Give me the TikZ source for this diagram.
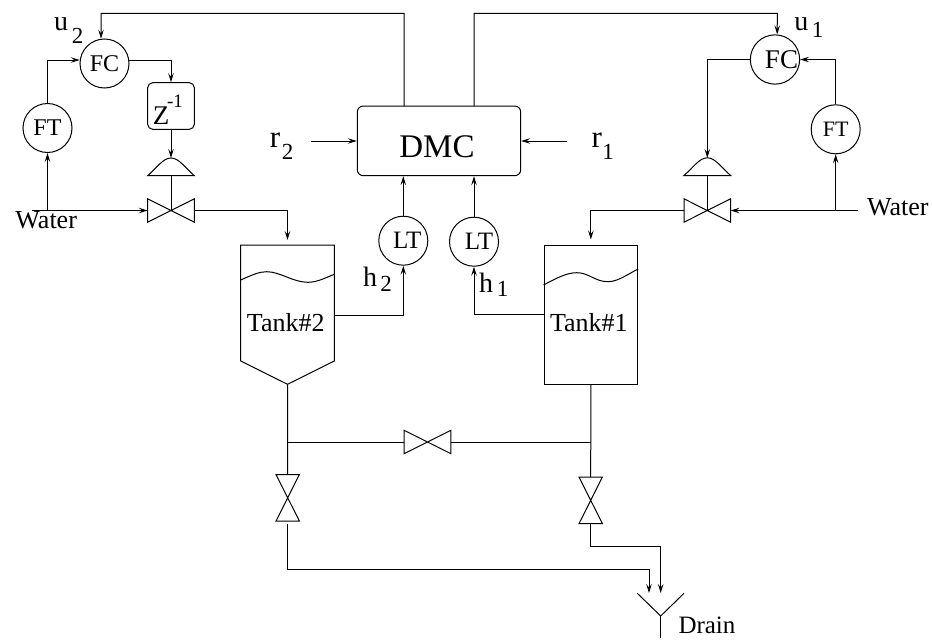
\documentclass[tikz,border=0pt]{standalone}
\usepackage{fontspec}
\setmainfont{Liberation Serif}
\usetikzlibrary{arrows.meta}
\tikzset{
  >={Stealth[length=9pt,width=5.5pt,inset=3.5pt]},
  meter/.style={draw, circle, minimum size=49pt, inner sep=0pt, font=\fontsize{24}{24}\selectfont},
  vessel/.style={draw, inner sep=0pt},
  txt/.style={inner sep=0pt, font=\fontsize{26}{26}\selectfont},
  letter/.style={inner sep=0pt, font=\fontsize{28}{28}\selectfont},
  digit/.style={inner sep=0pt, font=\fontsize{23}{23}\selectfont},
  bowtie/.pic={
    \draw (-23.3,-11.7) -- (23.3,11.7) -- (23.3,-11.7) -- (-23.3,11.7) -- cycle;
    \coordinate (-in) at (-23.3,0);
    \coordinate (-c) at (0,0);
    \coordinate (-out) at (23.3,0);
  },
  dome/.pic={
    \draw (-23.3,0) -- (23.3,0) .. controls (14,-8) and (8,-17.7) .. (0,-17.7)
      .. controls (-8,-17.7) and (-14,-8) .. cycle;
    \coordinate (-base) at (0,0);
  },
}
\begin{document}
\begin{tikzpicture}[x=1pt, y=-1pt, line width=1pt]
  \useasboundingbox (0,0) rectangle (932,640);
  % controller
  \node[draw, rounded corners=6pt, minimum width=163.4pt, minimum height=69.7pt, inner sep=0pt] (dmc) at (439,140.85) {};
  \node[inner sep=0pt, font=\fontsize{33}{33}\selectfont] (dmctext) at (437,147) {DMC};
  % left loop
  \node[meter] (fcl) at (104.5,63.5) {FC};
  \node[meter] (ftl) at (47.5,128) {FT};
  \node[draw, rounded corners=5pt, minimum size=46.6pt, inner sep=0pt] (zinv) at (171,106) {};
  \node[inner sep=0pt, font=\fontsize{27}{27}\selectfont] (ztext) at (161,116) {Z};
  \node[inner sep=0pt, font=\fontsize{19}{19}\selectfont] (zexp) at (175,101) {-1};
  \pic (vl) at (171,210.5) {bowtie};
  \pic (al) at (171,175.7) {dome};
  \coordinate (inl) at (32,210.5);
  \coordinate (brl) at (47.5,210.5);
  \coordinate (tophl) at (101,13.3);
  \draw[->] (ftl.north) |- (fcl.172);
  \draw[->] (brl) -- (ftl.south);
  \draw[->] (inl) -- (vl-in);
  \draw[->] (fcl.8) -| (zinv.north);
  \draw[->] (zinv.south) -- (171,158);
  \draw (al-base) -- (vl-c);
  % right loop
  \node[meter, font=\fontsize{27}{27}\selectfont] (fcr) at (775,59.5) {\hspace{13pt}FC};
  \node[meter, font=\fontsize{22}{22}\selectfont] (ftr) at (835.7,129.3) {FT};
  \pic (vr) at (707.3,210.5) {bowtie};
  \pic (ar) at (707.3,175.5) {dome};
  \coordinate (inr) at (858.3,210.5);
  \coordinate (brr) at (835.7,210.5);
  \coordinate (tophr) at (777.3,13.3);
  \draw[->] (ftr.north) |- (fcr.east);
  \draw[->] (brr) -- (ftr.south);
  \draw[->] (inr) -- (vr-out);
  \draw[->] (fcr.west) -| (707.3,158);
  \draw (ar-base) -- (vr-c);
  % tanks
  \draw (240.7,245) -- (334.3,245) -- (334.3,361) -- (287.5,384.3) -- (240.7,361) -- cycle;
  \draw (240.7,280) .. controls (252,275) and (259,271.7) .. (266.7,271.7)
    .. controls (280,271.7) and (293,282.3) .. (308,282.3)
    .. controls (317,282.3) and (325,278) .. (334.3,274.3);
  \coordinate (tank2top) at (287.5,245);
  \coordinate (tank2side) at (334.3,315);
  \coordinate (tank2tip) at (287.5,384.3);
  \node[txt] (tank2text) at (285.8,323) {Tank\#2};
  \node[vessel, minimum width=93.7pt, minimum height=139.3pt] (tank1) at (590.85,314.65) {};
  \draw (tank1.west |- 0,285) .. controls (555,279) and (566,272.7) .. (576.7,272.7)
    .. controls (589,272.7) and (595,281.7) .. (608,281.7)
    .. controls (618,281.7) and (628,274) .. (tank1.east |- 0,269);
  \node[txt] (tank1text) at (588.8,323) {Tank\#1};
  \draw[->, shorten >=5pt] (vl-out) -| (tank2top);
  \draw[->, shorten >=5pt] (vr-in) -| (tank1.north);
  % level transmitters
  \node[meter, font=\fontsize{25}{25}\selectfont] (ltl) at (403.3,240.7) {\hspace{8pt}LT};
  \node[meter, font=\fontsize{25}{25}\selectfont] (ltr) at (474,241.7) {\hspace{10pt}LT};
  \draw[->] (tank2side) -| (ltl.south);
  \draw[->] (tank1.west) -| (ltr.south);
  \draw[->] (ltl.north) -- (ltl.north |- dmc.south);
  \draw[->] (ltr.north) -- (ltr.north |- dmc.south);
  % setpoints and outputs
  \coordinate (rl) at (311,141);
  \coordinate (rr) at (567,141);
  \draw[->] (rl) -- (rl -| dmc.west);
  \draw[->] (rr) -- (rr -| dmc.east);
  \coordinate (outl) at (404,106);
  \coordinate (outr) at (474,106);
  \draw[->] (outl) |- (tophl) -- (fcl.98);
  \draw[->] (outr) |- (tophr) -- (fcr.85);
  % drain piping
  \pic (vm) at (427.5,442) {bowtie};
  \pic[rotate=90] (vb) at (287.7,497.8) {bowtie};
  \pic[rotate=90] (vc) at (590.7,500.3) {bowtie};
  \coordinate (jl) at (287.7,442);
  \coordinate (jr) at (590.7,442);
  \coordinate (dropl) at (649,593);
  \coordinate (dropr) at (660.7,593);
  \draw (tank2tip) -- (vb-out);
  \draw (tank1.south) -- (vc-out);
  \draw (jl) -- (vm-in);
  \draw (vm-out) -- (jr);
  \draw[->] (287.7,523.7) |- (649,569.7) -- (dropl);
  \draw[->] (vc-in) |- (660.7,546.3) -- (dropr);
  \coordinate (drainc) at (660.7,616);
  \draw (637.3,593.3) -- (drainc) -- (684,593.3);
  \draw (drainc) -- (660.7,638);
  % labels
  \node[txt, anchor=west] (waterl) at (15,220) {Water};
  \node[txt, anchor=west] (waterr) at (866.7,207) {Water};
  \node[txt, anchor=west, font=\fontsize{25}{25}\selectfont] (drain) at (678,625) {Drain};
  \node[letter] (u2a) at (61,24) {u};
  \node[digit] (u2b) at (77.7,35.7) {2};
  \node[letter] (u1a) at (801.3,24) {u};
  \node[digit] (u1b) at (817.5,29.5) {1};
  \node[letter, font=\fontsize{31}{31}\selectfont] (r2a) at (275,140) {r};
  \node[digit] (r2b) at (287.7,151.7) {2};
  \node[letter, font=\fontsize{31}{31}\selectfont] (r1a) at (596.7,140) {r};
  \node[digit] (r1b) at (608,151.7) {1};
  \node[letter] (h2a) at (370,277) {h};
  \node[digit] (h2b) at (386,284) {2};
  \node[letter] (h1a) at (486,282.5) {h};
  \node[digit] (h1b) at (502.7,289) {1};
\end{tikzpicture}
\end{document}
